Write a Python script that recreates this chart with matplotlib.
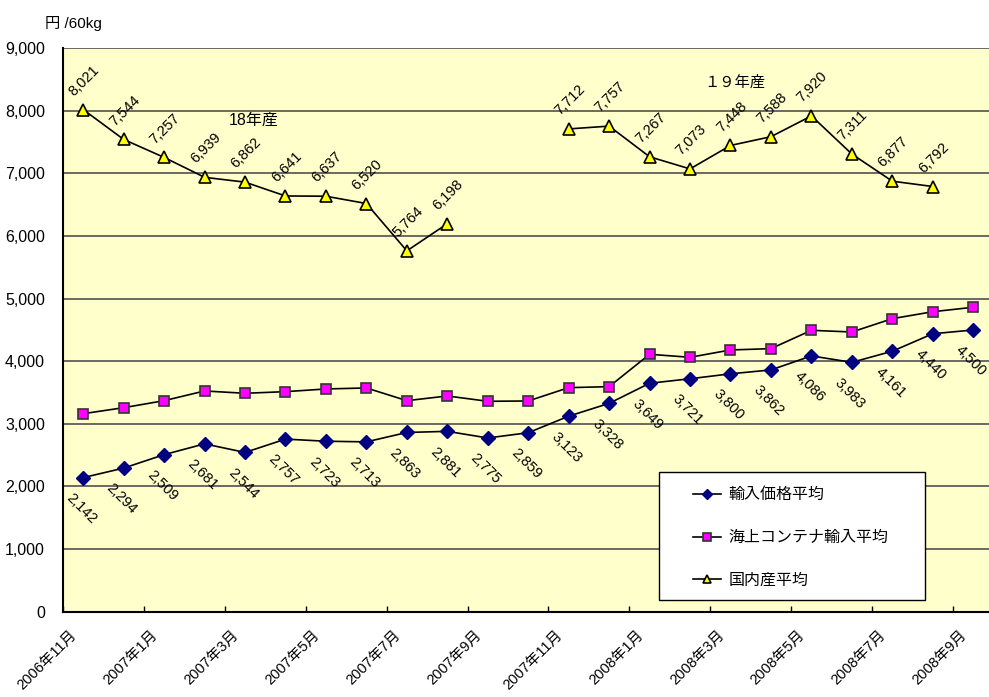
import matplotlib

matplotlib.use("Agg")
import matplotlib.pyplot as plt
import matplotlib.transforms as mtransforms
from matplotlib.patches import Rectangle
import numpy as np

plt.rcParams["font.family"] = ["Liberation Sans", "Noto Sans CJK JP"]

months = ["2006年11月", "2006年12月", "2007年1月", "2007年2月", "2007年3月", "2007年4月",
          "2007年5月", "2007年6月", "2007年7月", "2007年8月", "2007年9月", "2007年10月",
          "2007年11月", "2007年12月", "2008年1月", "2008年2月", "2008年3月", "2008年4月",
          "2008年5月", "2008年6月", "2008年7月", "2008年8月", "2008年9月"]

import_avg = [2142, 2294, 2509, 2681, 2544, 2757, 2723, 2713, 2863, 2881, 2775, 2859,
              3123, 3328, 3649, 3721, 3800, 3862, 4086, 3983, 4161, 4440, 4500]
container_avg = [3163, 3259, 3371, 3526, 3489, 3515, 3558, 3574, 3371, 3446, 3361, 3366,
                 3579, 3595, 4112, 4064, 4181, 4202, 4495, 4468, 4681, 4792, 4863]
domestic_avg = [8021, 7544, 7257, 6939, 6862, 6641, 6637, 6520, 5764, 6198, np.nan, np.nan,
                7712, 7757, 7267, 7073, 7448, 7588, 7920, 7311, 6877, 6792, np.nan]

series_names = ["輸入価格平均", "海上コンテナ輸入平均", "国内産平均"]
y_ticks = [0, 1000, 2000, 3000, 4000, 5000, 6000, 7000, 8000, 9000]

x = np.arange(len(months))

fig = plt.figure(figsize=(9.89, 6.97), dpi=100)
ax = fig.add_axes([0.0637, 0.1224, 0.9408, 0.8083])
ax.set_facecolor("#FFFFCC")

ax.plot(x, import_avg, "-D", color="black", lw=1.2, ms=7, mfc="#000080", mec="#000080",
        label=series_names[0], zorder=3)
ax.plot(x, container_avg, "-s", color="black", lw=1.2, ms=7.5, mfc="#FF00FF", mec="#333333",
        mew=1.2, label=series_names[1], zorder=3)
ax.plot(x, domestic_avg, "-^", color="black", lw=1.2, ms=8, mfc="#FFFF00", mec="black",
        mew=1.2, label=series_names[2], zorder=3)

for i, v in enumerate(import_avg):
    ax.annotate(f"{v:,}", (x[i], v), xytext=(-2, -31), textcoords="offset pixels",
                rotation=-45, ha="center", va="center", fontsize=10.5)
for i, v in enumerate(domestic_avg):
    if np.isnan(v):
        continue
    ax.annotate(f"{v:,}", (x[i], v), xytext=(1, 29), textcoords="offset pixels",
                rotation=45, ha="center", va="center", fontsize=10.5)

ax.text(3.6, 7850, "18年産", fontsize=11.5, va="center")
ax.text(15.35, 8460, "１９年産", fontsize=11, va="center")

ax.set_xlim(-0.5, 22.5)
ax.set_ylim(0, 9000)
ax.set_yticks(y_ticks, [f"{v:,}" for v in y_ticks], fontsize=11.5)
ax.yaxis.grid(True, color="#505050", lw=1.2)
ax.set_axisbelow(True)
ax.tick_params(axis="y", length=0, pad=13)

ax.set_xticks(x[::2] - 0.5, months[::2], rotation=45, ha="right", va="center",
              rotation_mode="anchor", fontsize=10.5)
ax.tick_params(axis="x", direction="in", length=4, width=1)
offset = mtransforms.ScaledTranslation(8.3 / 72, -11.5 / 72, fig.dpi_scale_trans)
for lab in ax.get_xticklabels():
    lab.set_transform(lab.get_transform() + offset)

for s in ["top", "right"]:
    ax.spines[s].set_visible(False)
ax.spines["left"].set_linewidth(1.5)
ax.spines["bottom"].set_linewidth(1.5)

fig.text(0.045, 0.967, "円 /60kg", fontsize=11, va="center")

# legend frame drawn separately so its padding can match the original box
ax.add_patch(Rectangle((0.6405, 0.0208), 0.2859, 0.2272, transform=ax.transAxes,
                       facecolor="white", edgecolor="black", lw=1.0, zorder=4))
leg = ax.legend(loc="upper left", bbox_to_anchor=(0.677, 0.221), fontsize=11.5, numpoints=1,
                frameon=False, borderpad=0, labelspacing=1.75, handlelength=1.75,
                handletextpad=0.5, borderaxespad=0, markerscale=0.8)
leg.set_zorder(5)

fig.savefig("out.png", dpi=100)
